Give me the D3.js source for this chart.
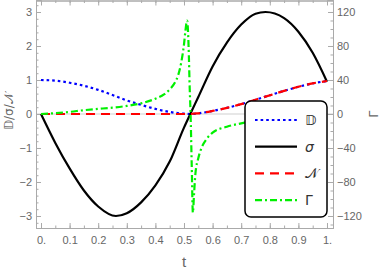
<!DOCTYPE html>
<html>
<head>
<meta charset="utf-8">
<script src="https://cdn.jsdelivr.net/npm/d3@7"></script>
<style>
	body { margin: 0; background: #fff; }
	.axis text { fill: #666; font-family: "Liberation Sans", Arial, sans-serif; font-size: 11px; }
	.axis path, .axis line { stroke: #aaa; }
</style>
</head>
<body>
<div class="chart"></div>
<script>
// values
const tMain = [0, 0.05, 0.1, 0.15, 0.2, 0.262, 0.3, 0.35, 0.4, 0.45, 0.5, 0.522, 0.55, 0.6, 0.65, 0.7, 0.75, 0.785, 0.85, 0.9, 0.95, 1];
const dVals = [1.0, 0.98, 0.92, 0.83, 0.71, 0.52, 0.40, 0.27, 0.15, 0.06, 0.01, 0.0, 0.02, 0.09, 0.18, 0.29, 0.42, 0.51, 0.68, 0.80, 0.90, 0.97];
const sigmaVals = [0, -0.85, -1.6, -2.25, -2.72, -3.0, -2.92, -2.6, -2.1, -1.4, -0.4, 0, 0.5, 1.4, 2.1, 2.63, 2.95, 3.0, 2.82, 2.42, 1.8, 0.95];
const nVals = [0, 0, 0, 0, 0, 0, 0, 0, 0, 0, 0, 0, 0.02, 0.09, 0.18, 0.29, 0.42, 0.51, 0.68, 0.80, 0.90, 0.97];

const tGamma = [0, 0.05, 0.1, 0.15, 0.2, 0.25, 0.3, 0.35, 0.4, 0.43, 0.45, 0.47, 0.48, 0.49, 0.5, 0.505, 0.511, 0.516, 0.52, 0.523, 0.527, 0.531, 0.535, 0.54, 0.55, 0.56, 0.58, 0.6, 0.65, 0.7, 0.75, 0.8, 0.85, 0.9, 0.95, 1];
const gammaVals = [0, 1, 2.5, 4.5, 6, 7.5, 9.5, 12.5, 18, 23, 29, 38, 46, 60, 82, 98, 110, 80, 30, 0, -60, -116, -95, -70, -52, -41, -29, -22, -15, -11, -8, -6, -4.5, -3, -1.5, 0];

const xTicks = [0, 0.1, 0.2, 0.3, 0.4, 0.5, 0.6, 0.7, 0.8, 0.9, 1];
const xTickLabels = ["0.", "0.1", "0.2", "0.3", "0.4", "0.5", "0.6", "0.7", "0.8", "0.9", "1."];
const yTicks = [-3, -2, -1, 0, 1, 2, 3];
const gTicks = [-120, -80, -40, 0, 40, 80, 120];

const legendNames = ["𝔻", "σ", "𝒩", "Γ"];
const legendItalic = [false, true, false, false];

const width = 382, height = 273;
const frameL = 36, frameR = 333, frameT = 0.5, frameB = 228;

const xScale = d3.scaleLinear().domain([-0.0175, 1.021]).range([frameL, frameR]);
const yScale = d3.scaleLinear().domain([-3.353, 3.353]).range([frameB, 0]);
const gScale = d3.scaleLinear().domain([-134.1, 134.1]).range([frameB, 0]);

const svg = d3.select(".chart").append("svg")
	.attr("width", width)
	.attr("height", height);

svg.append("defs").append("clipPath").attr("id", "plot")
	.append("rect").attr("x", frameL).attr("y", 0).attr("width", frameR - frameL).attr("height", frameB);

// zero axis line
svg.append("line")
	.attr("x1", frameL).attr("x2", frameR)
	.attr("y1", yScale(0)).attr("y2", yScale(0))
	.attr("stroke", "#cfcfcf").attr("stroke-width", 1.2);

const minus = (v) => (v < 0 ? "\u2212" + Math.abs(v) : "" + v);

// bottom / top frame
const xMinor = d3.range(0, 1.001, 0.05).map((d) => +d.toFixed(2));
svg.append("g").attr("class", "axis").attr("transform", `translate(0,${frameB})`)
	.call(d3.axisBottom(xScale).tickValues(xMinor).tickSize(-2.5).tickFormat(""));
svg.append("g").attr("class", "axis").attr("transform", `translate(0,${frameB})`)
	.call(d3.axisBottom(xScale).tickValues(xTicks).tickSize(-5).tickPadding(8)
		.tickFormat((d, i) => xTickLabels[i]));
svg.append("g").attr("class", "axis").attr("transform", `translate(0,${frameT})`)
	.call(d3.axisTop(xScale).tickValues(xMinor).tickSize(-2.5).tickFormat(""));
svg.append("g").attr("class", "axis").attr("transform", `translate(0,${frameT})`)
	.call(d3.axisTop(xScale).tickValues(xTicks).tickSize(-5).tickFormat(""));

// left axis
const yMinor = d3.range(-3.2, 3.21, 0.2).map((d) => +d.toFixed(1));
svg.append("g").attr("class", "axis").attr("transform", `translate(${frameL},0)`)
	.call(d3.axisLeft(yScale).tickValues(yMinor).tickSize(-2.5).tickFormat(""));
svg.append("g").attr("class", "axis").attr("transform", `translate(${frameL},0)`)
	.call(d3.axisLeft(yScale).tickValues(yTicks).tickSize(-5).tickPadding(4).tickFormat(minus));

// right axis
const gMinor = d3.range(-130, 131, 10);
svg.append("g").attr("class", "axis").attr("transform", `translate(${frameR},0)`)
	.call(d3.axisRight(gScale).tickValues(gMinor).tickSize(-2.5).tickFormat(""));
svg.append("g").attr("class", "axis").attr("transform", `translate(${frameR},0)`)
	.call(d3.axisRight(gScale).tickValues(gTicks).tickSize(-5).tickPadding(4).tickFormat(minus));

svg.selectAll(".axis .domain").attr("stroke", "#aaa");

// axis titles
svg.append("text")
	.attr("x", 184).attr("y", 267)
	.attr("text-anchor", "middle")
	.attr("fill", "#666")
	.style("font-family", "Liberation Sans, Arial, sans-serif")
	.style("font-size", "15px")
	.text("t");

svg.append("text")
	.attr("transform", "translate(13,111) rotate(-90)")
	.attr("text-anchor", "middle")
	.attr("fill", "#666")
	.style("font-family", "DejaVu Sans, sans-serif")
	.style("font-size", "12px")
	.text("𝔻/σ/𝒩");

svg.append("text")
	.attr("transform", "translate(378,114) rotate(-90)")
	.attr("text-anchor", "middle")
	.attr("fill", "#666")
	.style("font-family", "Liberation Sans, Arial, sans-serif")
	.style("font-size", "13px")
	.text("Γ");

// curves
const series = [
	{ t: tMain, v: dVals, scale: yScale, color: "#0000ff", dash: "2.6,3" },
	{ t: tMain, v: sigmaVals, scale: yScale, color: "#000000", dash: null },
	{ t: tMain, v: nVals, scale: yScale, color: "#ff0000", dash: "9,6" },
	{ t: tGamma, v: gammaVals, scale: gScale, color: "#00f000", dash: "7,3,2,3" }
];

const plot = svg.append("g").attr("clip-path", "url(#plot)");

series.forEach((s) => {
	const line = d3.line()
		.x((d, i) => xScale(s.t[i]))
		.y((d) => s.scale(d))
		.curve(d3.curveMonotoneX);
	plot.append("path")
		.attr("d", line(s.v))
		.attr("fill", "none")
		.attr("stroke", s.color)
		.attr("stroke-width", 2.2)
		.attr("stroke-dasharray", s.dash);
});

// legend
const legend = svg.append("g");
legend.append("rect")
	.attr("x", 245).attr("y", 101)
	.attr("width", 82).attr("height", 116)
	.attr("rx", 6)
	.attr("fill", "white")
	.attr("stroke", "black")
	.attr("stroke-width", 1.5);

legend.selectAll("line.key")
	.data(series)
	.enter()
	.append("line")
	.attr("x1", 255).attr("x2", 297)
	.attr("y1", (d, i) => 120 + 26.7 * i)
	.attr("y2", (d, i) => 120 + 26.7 * i)
	.attr("stroke", (d) => d.color)
	.attr("stroke-width", 2.2)
	.attr("stroke-dasharray", (d) => d.dash);

legend.selectAll("text.key")
	.data(legendNames)
	.enter()
	.append("text")
	.attr("x", 305)
	.attr("y", (d, i) => 125 + 26.7 * i)
	.style("font-family", "DejaVu Sans, sans-serif")
	.style("font-size", "14px")
	.style("font-style", (d, i) => (legendItalic[i] ? "italic" : "normal"))
	.attr("fill", "#333")
	.text((d) => d);
</script>
</body>
</html>
